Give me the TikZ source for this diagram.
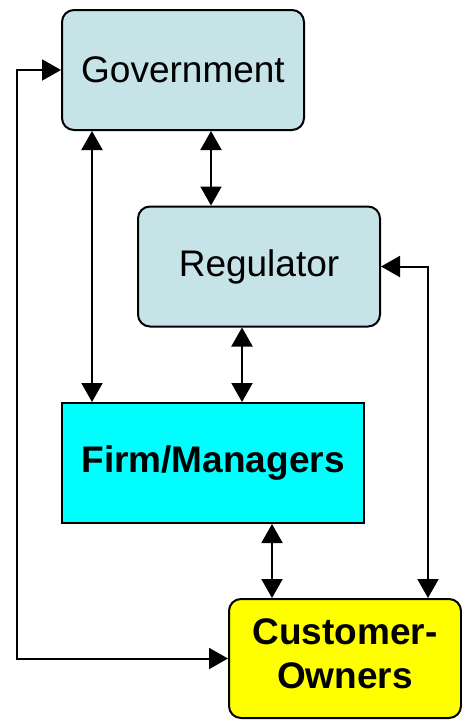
\documentclass[tikz,border=0pt]{standalone}
\usepackage{fontspec}
\setmainfont{Liberation Sans}
\usepackage{tikz}
\usetikzlibrary{positioning,arrows.meta,calc}
\definecolor{govblue}{RGB}{198,227,231}
\definecolor{firmcyan}{RGB}{0,255,255}
\definecolor{ownyellow}{RGB}{255,255,0}

\begin{document}
\begin{tikzpicture}[
    x=1pt, y=-1pt,
    agency/.style={draw, line width=2pt, rounded corners=12pt, fill=govblue, minimum width=242pt, minimum height=120pt, font=\fontsize{37}{44}\selectfont},
    firmbox/.style={draw, line width=2pt, fill=firmcyan, minimum width=302pt, minimum height=120pt, font=\bfseries\fontsize{37}{44}\selectfont},
    ownbox/.style={draw, line width=2pt, rounded corners=12pt, fill=ownyellow, align=center, minimum width=232pt, minimum height=119pt, font=\bfseries\fontsize{37}{44}\selectfont},
    arr/.style={{Triangle[length=19pt,width=21pt]}-{Triangle[length=19pt,width=21pt]}, line width=2pt}
]
\useasboundingbox (0,0) rectangle (462,720);
\node[agency] (gov) at (183,70) {Government};
\node[agency] (reg) at (259,266.5) {Regulator};
\node[firmbox] (firm) at (213,463) {Firm/Managers};
\node[ownbox, inner sep=0pt] (cust) at (345,658.5) {Customer-\\Owners\\[-34pt]};
\draw[arr] ([xshift=31pt]gov.south west) -- ([xshift=31pt]firm.north west);
\draw[arr] ([xshift=150pt]gov.south west) -- ([xshift=150pt]gov.south west |- reg.north);
\draw[arr] ([xshift=-17pt]reg.south) -- ([xshift=-17pt]reg.south |- firm.north);
\draw[arr] ([xshift=44pt]cust.north west |- firm.south) -- ([xshift=44pt]cust.north west);
\draw[arr] (reg.east) -| ([xshift=-34pt]cust.north east);
\draw[arr] (gov.west) -- ++(-44pt,0) |- (cust.west);
\end{tikzpicture}
\end{document}
